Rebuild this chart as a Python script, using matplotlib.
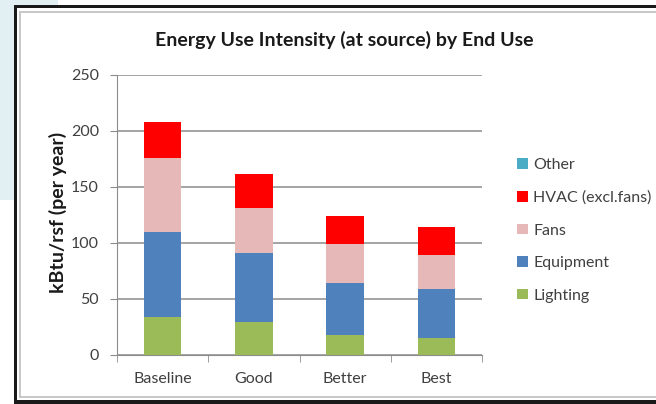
import matplotlib
matplotlib.use('Agg')
import matplotlib.pyplot as plt
from matplotlib.patches import Rectangle
import numpy as np

# data (kBtu/rsf per year)
scenarios = ['Baseline', 'Good', 'Better', 'Best']
lighting = [33.5, 29.7, 17.6, 15.0]
equipment = [76.0, 61.6, 47.0, 43.6]
fans = [66.0, 40.2, 34.8, 30.7]
hvac = [32.5, 30.1, 25.0, 25.3]
other = [0.0, 0.0, 0.0, 0.0]

series_names = ['Lighting', 'Equipment', 'Fans', 'HVAC (excl.fans)', 'Other']
series_colors = ['#9bbb59', '#4f81bd', '#e6b9b8', '#ff0000', '#4bacc6']

W, H = 656, 404
plt.rcParams['font.family'] = ['Lato', 'DejaVu Sans']

fig = plt.figure(figsize=(W / 100, H / 100), dpi=100)


def box(x0, y0, x1, y1, color):
    # rectangle in pixel coords (top-left origin)
    fig.add_artist(Rectangle((x0 / W, 1 - y1 / H), (x1 - x0) / W, (y1 - y0) / H,
                             transform=fig.transFigure, facecolor=color,
                             edgecolor='none', zorder=0))


# light blue slide background bits on the left
box(0, 0, 58, 142, '#e2f0f3')
box(0, 0, 15, 200, '#e2f0f3')
# chart frame: outer black, inner grey
box(14, 5, 700, 8, '#1a1a1a')
box(14, 5, 17, 404, '#1a1a1a')
box(14, 400, 700, 404, '#1a1a1a')
box(17, 8, 700, 400, 'white')
box(19, 11, 700, 13, '#c8c8c8')
box(19, 11, 21, 398, '#c8c8c8')
box(19, 396, 700, 398, '#c8c8c8')
box(21, 13, 700, 396, 'white')

ax = fig.add_axes([117 / W, 49 / H, 365 / W, 280 / H])
ax.set_facecolor('none')

x = np.arange(len(scenarios))
stack = [lighting, equipment, fans, hvac, other]
bottom = np.zeros(len(scenarios))
handles = []
for vals, name, col in zip(stack, series_names, series_colors):
    b = ax.bar(x, vals, width=0.41, bottom=bottom, color=col, label=name, zorder=3)
    handles.append(b)
    bottom += np.array(vals)

ax.set_xlim(-0.5, 3.5)
ax.set_ylim(0, 250)
ax.set_yticks(range(0, 251, 50))
ax.yaxis.grid(True, color='#8c8c8c', linewidth=1.1)
ax.set_axisbelow(True)

for s in ['top', 'right']:
    ax.spines[s].set_visible(False)
ax.spines['left'].set_color('#8c8c8c')
ax.spines['bottom'].set_color('#8c8c8c')

ax.set_xticks(x)
ax.set_xticklabels(scenarios, fontsize=11.5, color='#404040')
ax.tick_params(axis='x', length=0, pad=12)
ax.set_xticks(np.arange(-0.5, 4.0, 1.0), minor=True)
ax.tick_params(axis='x', which='minor', length=5, color='#8c8c8c')
ax.tick_params(axis='y', length=5, color='#8c8c8c', labelsize=11.5,
               labelcolor='#404040', pad=8)

ax.set_ylabel('kBtu/rsf (per year)', fontsize=14, fontweight='bold',
              color='#1a1a1a', va='center')
ax.yaxis.set_label_coords(-0.162, 0.51)
fig.text(344 / W, 1 - 40 / H, 'Energy Use Intensity (at source) by End Use',
         ha='center', va='center', fontsize=14, fontweight='bold', color='#1a1a1a')

leg = fig.legend(handles[::-1], series_names[::-1], loc='upper left',
                 bbox_to_anchor=(506 / W, 1 - 147 / H), frameon=False,
                 fontsize=11.5, labelcolor='#404040', handlelength=0.65,
                 handleheight=0.65, handletextpad=0.35, labelspacing=1.16,
                 borderpad=0.2)

fig.savefig('out.png', dpi=100)
